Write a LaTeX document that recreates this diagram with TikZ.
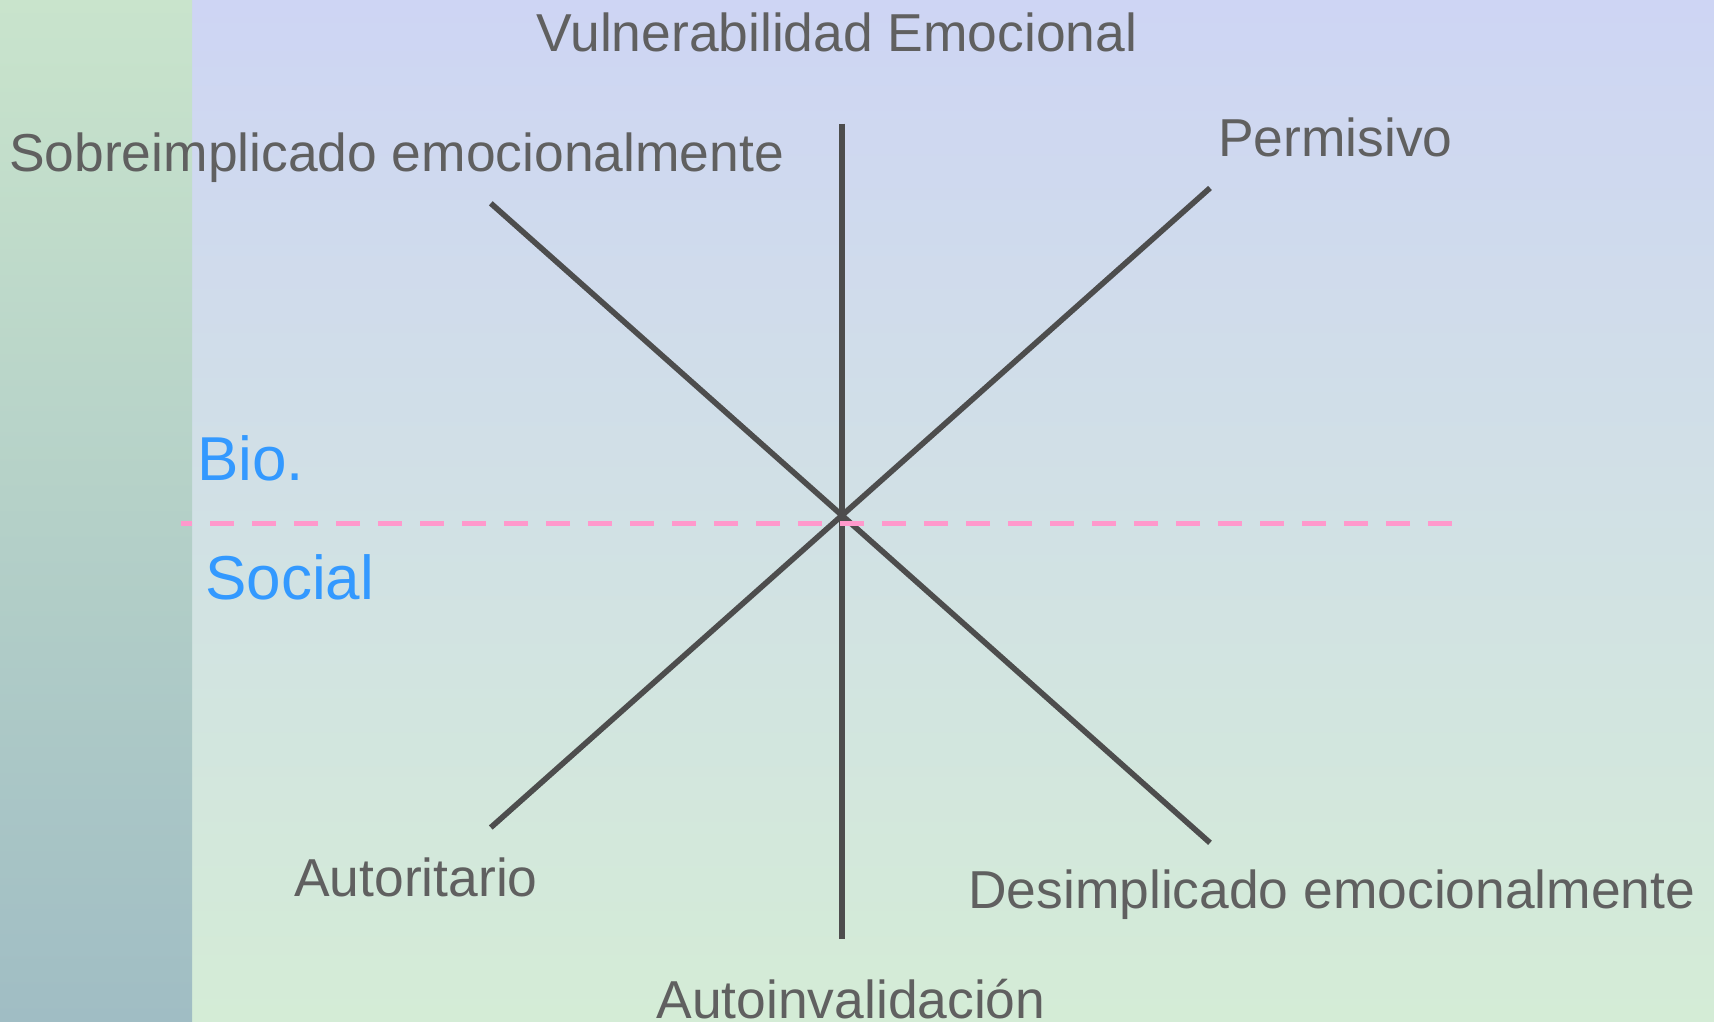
\documentclass[tikz,border=0pt]{standalone}
\usepackage{fontspec}
\setmainfont{Liberation Sans}
\definecolor{bgtop}{HTML}{CED5F4}
\definecolor{bgbot}{HTML}{D4ECD6}
\definecolor{striptop}{HTML}{C9E4CC}
\definecolor{stripbot}{HTML}{A0BDC4}
\definecolor{axis}{HTML}{4D4D4D}
\definecolor{txt}{HTML}{606060}
\definecolor{bluetxt}{HTML}{3399FF}
\definecolor{pinkline}{HTML}{FF99CC}
\begin{document}
\begin{tikzpicture}[x=1pt,y=-1pt,
  axisline/.style={draw=axis,line width=5.6pt},
  divline/.style={draw=pinkline,line width=5pt,dash pattern=on 24pt off 18pt,dash phase=13pt},
  lbl/.style={inner sep=0pt,text=txt,font=\fontsize{53.4}{60}\selectfont},
  bslbl/.style={inner sep=0pt,text=bluetxt,font=\fontsize{62}{70}\selectfont,anchor=base west}]
\useasboundingbox (0,0) rectangle (1714,1021);
\shade[top color=bgtop,bottom color=bgbot] (0,0) rectangle (1714,1021);
\shade[top color=striptop,bottom color=stripbot] (0,0) rectangle (192,1021);
% axis coordinates
\coordinate (c) at (842,515.4);
\coordinate (vtop) at (842,123.5);
\coordinate (vbot) at (842,939);
\coordinate (nw) at (490.8,203.3);
\coordinate (se) at (1210,842.8);
\coordinate (sw) at (490.8,827.5);
\coordinate (ne) at (1210,188);
\coordinate (dl) at (181,523.6);
\coordinate (dr) at (1451.6,523.6);
\draw[axisline] (vtop) -- (vbot);
\draw[axisline] (nw) -- (c) -- (se);
\draw[axisline] (sw) -- (c) -- (ne);
\draw[divline] (dl) -- (dr);
% labels
\node[lbl,anchor=base] (vuln) at (837,51) {Vulnerabilidad Emocional};
\node[lbl,anchor=base west] (sobre) at (9,171.7) {Sobreimplicado emocionalmente};
\node[lbl,anchor=base west] (perm) at (1218,156) {Permisivo};
\node[lbl,anchor=base west] (auto) at (294,896) {Autoritario};
\node[lbl,anchor=base west] (desim) at (968,908.5) {Desimplicado emocionalmente};
\node[lbl,anchor=base] (autoinv) at (851,1018) {Autoinvalidación};
\node[bslbl] (bio) at (197,480) {Bio.};
\node[bslbl] (social) at (205,599) {Social};
\end{tikzpicture}
\end{document}
